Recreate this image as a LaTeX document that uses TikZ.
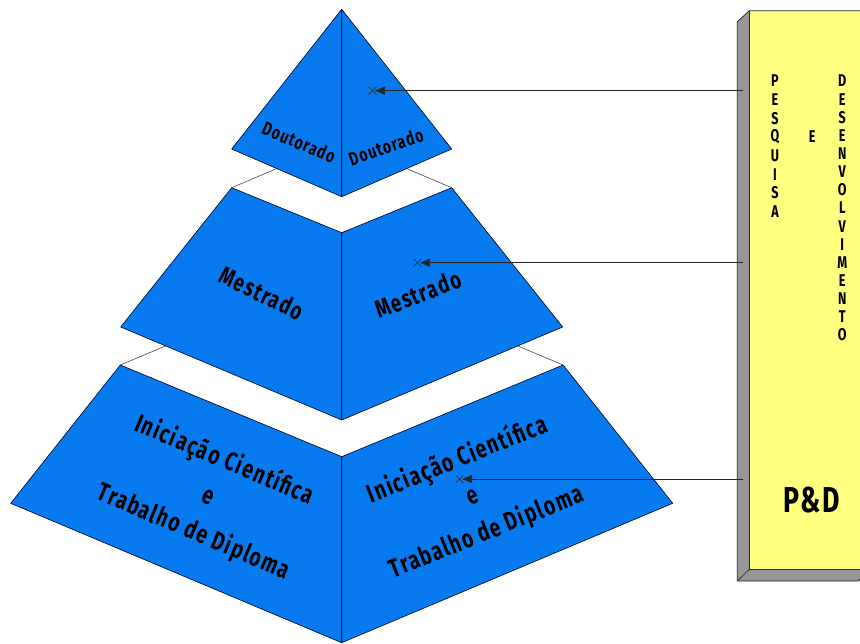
\documentclass[tikz,border=0pt]{standalone}
\usepackage{fontspec}
\newfontfamily\hand[FakeStretch=0.74,LetterSpace=6]{Fira Sans}
\usetikzlibrary{arrows.meta}
\definecolor{pblue}{RGB}{8,122,240}
\definecolor{pyellow}{RGB}{255,255,128}
\definecolor{boxgray}{RGB}{150,150,150}
\begin{document}
\begin{tikzpicture}[x=1pt,y=-1pt,
  face/.style={fill=pblue, draw=black!85!blue, line width=0.6pt, line join=round},
  backline/.style={draw=black!70, line width=0.6pt},
  lbl/.style={font={\hand\bfseries}, inner sep=0pt, align=center},
  boxletter/.style={font={\hand\bfseries\fontsize{17}{17}\selectfont}, inner sep=0pt},
  arr/.style={draw=black!85, line width=0.7pt, -{Triangle[length=10pt,width=8pt]}},
  xmark/.style={draw=black!85, line width=0.6pt}]
\useasboundingbox (0,0) rectangle (860,643);
% pyramid key points
\coordinate (apex) at (341.7,9.3);
\coordinate (aL) at (231.7,149);
\coordinate (aR) at (451.7,149);
\coordinate (aB) at (341.7,196.7);
\coordinate (mTL) at (231.7,187.7);
\coordinate (mTR) at (451.7,187.7);
\coordinate (mTC) at (341.7,232.7);
\coordinate (mBack) at (341.7,141);
\coordinate (mBL) at (120.7,327);
\coordinate (mBR) at (562.7,327);
\coordinate (mBC) at (341.7,420);
\coordinate (bTL) at (120.3,365);
\coordinate (bTR) at (563.1,365);
\coordinate (bTC) at (341.7,456.7);
\coordinate (bBack) at (341.7,272);
\coordinate (bBL) at (10.7,503.3);
\coordinate (bBR) at (672.7,503.3);
\coordinate (bBC) at (341.7,642.7);
% back edges of the tier tops
\draw[backline] (mTL) -- (mBack) -- (mTR);
\draw[backline] (bTL) -- (bBack) -- (bTR);
% faces
\draw[face] (apex) -- (aL) -- (aB) -- cycle;
\draw[face] (apex) -- (aB) -- (aR) -- cycle;
\draw[face] (mTL) -- (mTC) -- (mBC) -- (mBL) -- cycle;
\draw[face] (mTC) -- (mTR) -- (mBR) -- (mBC) -- cycle;
\draw[face] (bTL) -- (bTC) -- (bBC) -- (bBL) -- cycle;
\draw[face] (bTC) -- (bTR) -- (bBR) -- (bBC) -- cycle;
% labels
\node[lbl, font={\hand\bfseries\fontsize{19}{19}\selectfont}, rotate=-23] (dl) at (299,142) {Doutorado};
\node[lbl, font={\hand\bfseries\fontsize{19}{19}\selectfont}, rotate=19] (dr) at (386,147) {Doutorado};
\node[lbl, font={\hand\bfseries\fontsize{25}{25}\selectfont}, rotate=-26] (ml) at (262,293) {Mestrado};
\node[lbl, font={\hand\bfseries\fontsize{25}{25}\selectfont}, rotate=21] (mr) at (418,294) {Mestrado};
\node[lbl, font={\hand\bfseries\fontsize{26}{39}\selectfont}, rotate=-23] (bl) at (209,496) {Iniciação Científica\\e\\Trabalho de Diploma};
\node[lbl, font={\hand\bfseries\fontsize{26}{39}\selectfont}, rotate=22] (br) at (472,496) {Iniciação Científica\\e\\Trabalho de Diploma};
% P&D box
\fill[boxgray] (737.3,21.7) -- (749.3,10.7) -- (749.3,569.3) -- (737.3,581) -- cycle;
\fill[boxgray] (749.3,569.3) -- (862,569.3) -- (862,581) -- (737.3,581) -- cycle;
\fill[pyellow] (749.3,10.7) rectangle (862,569.3);
\draw[line width=0.7pt, black!85] (737.3,581) -- (737.3,21.7) -- (749.3,10.7) -- (862,10.7);
\draw[line width=0.6pt, black!85] (749.3,10.7) -- (749.3,569.3) -- (862,569.3);
\draw[line width=0.6pt, black!85] (737.3,581) -- (749.3,569.3);
\draw[line width=0.7pt, black!85] (737.3,581) -- (858,581) -- (860,579);
\foreach \c [count=\i from 0] in {P,E,S,Q,U,I,S,A}
  \node[boxletter] (pq\i) at (775,81+18.67*\i) {\c};
\node[boxletter] (e) at (812.3,137) {E};
\foreach \c [count=\i from 0] in {D,E,S,E,N,V,O,L,V,I,M,E,N,T,O}
  \node[boxletter] (ds\i) at (842.3,81+18.14*\i) {\c};
\node[lbl, font={\hand\bfseries\fontsize{36}{36}\selectfont}] (pd) at (811.7,500) {P\&D};
% arrows
\coordinate (s1) at (743.3,90.7);
\coordinate (s2) at (743.3,262.7);
\coordinate (s3) at (743.3,479);
\coordinate (t1) at (375,90.7);
\coordinate (t2) at (420,262.7);
\coordinate (t3) at (462,479);
\foreach \k in {1,2,3} {
  \draw[arr] (s\k) -- (t\k);
  \draw[xmark] ([shift={(-6.5,-4)}]t\k) -- ([shift={(1.5,4)}]t\k);
  \draw[xmark] ([shift={(-6.5,4)}]t\k) -- ([shift={(1.5,-4)}]t\k);
}
\end{tikzpicture}
\end{document}
